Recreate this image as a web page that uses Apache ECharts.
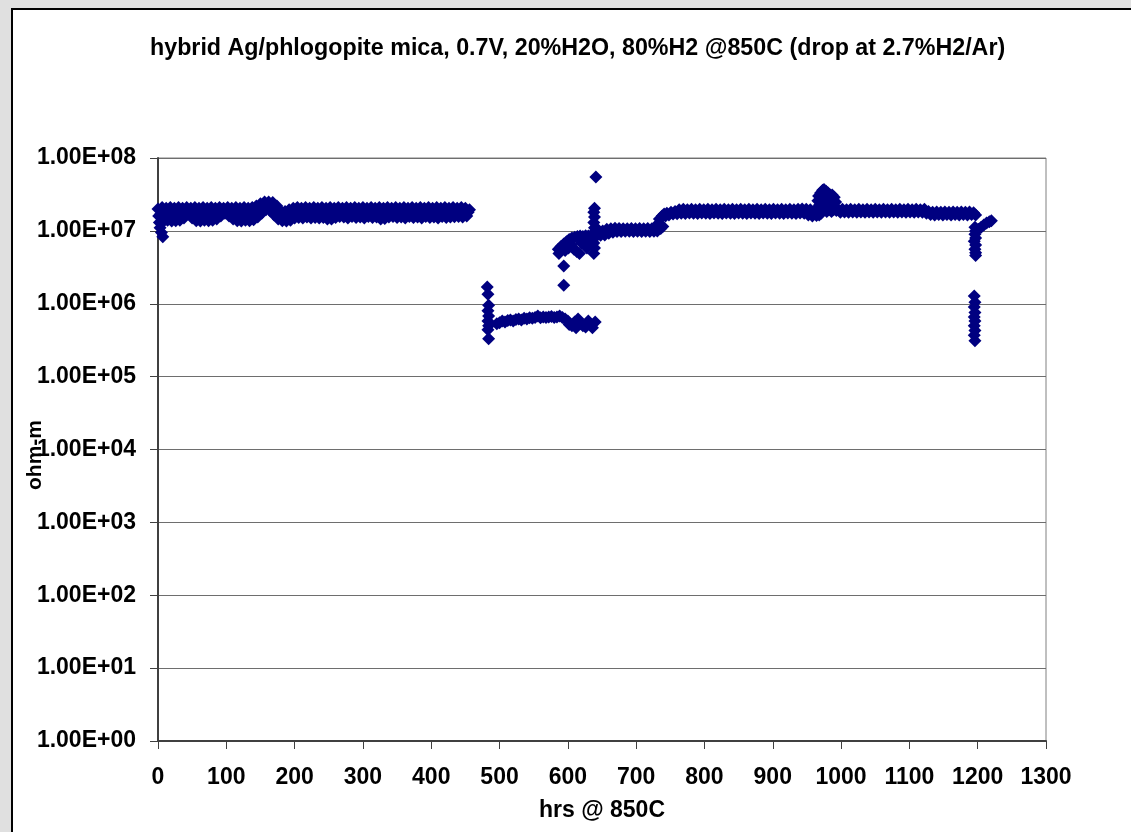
<!DOCTYPE html>
<html><head><meta charset="utf-8">
<script src="https://cdn.jsdelivr.net/npm/echarts@6/dist/echarts.min.js"></script>
<style>
html,body{margin:0;padding:0;width:1131px;height:832px;overflow:hidden;background:#e0e0e0;}
#frame{position:absolute;left:11px;top:8px;width:1140px;height:840px;background:#fff;border-left:2px solid #000;border-top:2px solid #000;}
#chart{position:absolute;left:0;top:0;width:1131px;height:832px;}
</style></head><body><div id="frame"></div><div id="chart"></div>
<script>
const titleText = 'hybrid Ag/phlogopite mica, 0.7V, 20%H2O, 80%H2 @850C (drop at 2.7%H2/Ar)';
const xName = 'hrs @ 850C';
const yName = 'ohm-m';
const yTickLabels = ['1.00E+00','1.00E+01','1.00E+02','1.00E+03','1.00E+04','1.00E+05','1.00E+06','1.00E+07','1.00E+08'];

// [hours, ohm-m]
const run1 = [[0,20e6],[1,16e6],[2,13e6],[3,11e6],[4,17e6],[5,9.5e6],[7,8.3e6],
[6,21e6],[8,13.5e6],[10,17e6],[12,20.5e6],[14,14e6],[16,17.5e6],[18,21e6],[20,13.7e6],[22,16.5e6],[24,20.5e6],[26,13.8e6],[28,17e6],[30,21e6],[32,14e6],[34,17.5e6],[36,20.5e6],
[38,15e6],[40,18e6],[42,21e6],[44,17.5e6],[46,19e6],[48,20.5e6],[50,15e6],[52,17e6],[54,21e6],[56,13.8e6],[58,16.5e6],[60,20.5e6],[62,13.7e6],[64,17e6],[66,21e6],[68,14e6],[70,17.5e6],[72,20.5e6],[74,13.8e6],[76,16.5e6],[78,21e6],[80,14e6],[82,17e6],[84,20.5e6],[86,14.5e6],[88,17.5e6],[90,21e6],[92,16e6],[94,18.5e6],[96,20.5e6],[98,17.5e6],[100,19e6],[102,21e6],[104,16e6],[106,18e6],[108,20.5e6],[110,14.5e6],[112,17e6],[114,21e6],[116,13.8e6],[118,16.5e6],[120,20.5e6],[122,13.7e6],[124,17e6],[126,21e6],[128,14e6],[130,17.5e6],[132,20.5e6],[134,13.8e6],[136,16.5e6],[138,21e6],[140,14.2e6],[142,17.5e6],[144,22e6],[146,15.5e6],[148,19e6],[150,23.5e6],[152,17.5e6],[154,21e6],[156,25e6],[158,19.5e6],[160,22.5e6],[162,25e6],[164,19e6],[166,22e6],[168,24.5e6],[170,16.5e6],[172,20e6],[174,22e6],[176,14.5e6],[178,16.5e6],[180,18.5e6],[182,13.8e6],[184,16e6],[186,18.5e6],[188,13.7e6],[190,16.5e6],[192,19.5e6],[194,14e6],[196,17e6],[198,20.5e6],[200,15e6],[202,17.5e6],[204,21e6],[206,15.2e6],[208,18e6],[210,20.5e6],[212,15e6],[214,17.5e6],[216,21e6],[218,15.5e6],[220,18e6],[222,20.5e6],[224,15e6],[226,17.5e6],[228,21e6],[230,15.2e6],[232,18e6],[234,20.5e6],[236,15e6],[238,17.5e6],[240,21e6],[242,15.2e6],[244,18e6],[246,20.5e6],[248,14.5e6],[250,17e6],[252,21e6],[254,14.5e6],[256,17.5e6],[258,20.5e6],[260,15.2e6],[262,18e6],[264,21e6],[266,15.8e6],[268,18e6],[270,20.5e6],[272,15.5e6],[274,17.5e6],[276,21e6],[278,15e6],[280,18e6],[282,20.5e6],[284,15.8e6],[286,17.5e6],[288,21e6],[290,15.2e6],[292,18e6],[294,20.5e6],[296,15.5e6],[298,17.5e6],[300,21e6],[302,15e6],[304,18e6],[306,20.5e6],[308,15.8e6],[310,17.5e6],[312,21e6],[314,15.2e6],[316,18e6],[318,20.5e6],[320,15.5e6],[322,17.5e6],[324,21e6],[326,14.6e6],[328,17e6],[330,20.5e6],[332,14.8e6],[334,17.5e6],[336,21e6],[338,15.5e6],[340,18e6],[342,20.5e6],[344,15.8e6],[346,17.5e6],[348,21e6],[350,15.2e6],[352,18e6],[354,20.5e6],[356,15.5e6],[358,17.5e6],[360,21e6],[362,15e6],[364,18e6],[366,20.5e6],[368,15.8e6],[370,17.5e6],[372,21e6],[374,15.2e6],[376,18e6],[378,20.5e6],[380,15.5e6],[382,17.5e6],[384,21e6],[386,15e6],[388,18e6],[390,20.5e6],[392,15.8e6],[394,17.5e6],[396,21e6],[398,15.2e6],[400,18e6],[402,20.5e6],[404,15.5e6],[406,17.5e6],[408,21e6],[410,15e6],[412,18e6],[414,20.5e6],[416,15.8e6],[418,17.5e6],[420,21e6],[422,15.2e6],[424,18e6],[426,20.5e6],[428,15.5e6],[430,17.5e6],[432,21e6],[434,15.6e6],[436,18e6],[438,20.5e6],[440,15.8e6],[442,17.5e6],[444,21e6],[446,15.5e6],[448,18e6],[450,20.5e6],[452,16e6],[454,18e6],[456,19.5e6]];

const lowRun = [[482,1.7e6],[483,1.35e6],[484,9.5e5],[483,8e5],[484,6.8e5],[483,5.8e5],[484,5e5],[483,4.4e5],[484,3.3e5],
[496,5.3e5],[500,5.5e5],[504,5.8e5],[508,5.6e5],[512,5.9e5],[516,6e5],[520,5.8e5],[524,6.1e5],[528,6.2e5],[532,6e5],[536,6.3e5],[540,6.2e5],[544,6.4e5],[548,6.3e5],[552,6.5e5],[556,6.8e5],[560,6.4e5],[564,6.6e5],[568,6.5e5],[572,6.6e5],[576,6.7e5],[580,6.5e5],[584,6.6e5],[588,6.8e5],[592,6.5e5],[596,6.2e5],[600,5.8e5],[602,5.2e5],[606,5e5],[610,5.6e5],[612,4.7e5],[615,6.2e5],[618,5.3e5],[622,5e5],[626,4.8e5],[630,5.8e5],[633,5.2e5],[636,4.7e5],[640,5.6e5]];

const recovery = [[594,1.8e6],[594,3.3e6],[587,4.9e6],[586,5.6e6],[590,6.1e6],[594,6.6e6],[598,7.1e6],[602,7.6e6],[606,8e6],[610,8.2e6],[614,8.4e6],[618,8.5e6],[622,8.4e6],[626,8.6e6],[630,8.5e6],[596,5.4e6],[601,5.8e6],[605,6.4e6],[609,5.6e6],[613,5.2e6],[617,4.9e6],[620,6.8e6],[624,7.2e6],[628,5.8e6],[632,7e6],[634,8e6],
[641,55e6],[639,20.5e6],[638,18e6],[639,15.5e6],[638,13e6],[639,11e6],[638,9.5e6],[639,8e6],[638,6.8e6],[639,5.8e6],[638,4.9e6],
[643,9e6],[645,10.2e6],[648,8.7e6],[651,10e6],[654,8.8e6],[657,10.5e6],[660,9.3e6],[663,10.7e6],[666,9.6e6],[669,10.9e6],[672,9.8e6],[675,10.8e6],[678,9.8e6],[681,10.7e6],[684,9.9e6],[687,10.7e6],[690,9.9e6],[693,10.8e6],[696,9.8e6],[699,10.7e6],[702,9.9e6],[705,10.8e6],[708,9.8e6],[711,10.7e6],[714,9.9e6],[717,10.8e6],[720,9.8e6],[723,10.7e6],[726,9.9e6],[729,11e6],[731,10e6],[732,12.5e6],[734,14.5e6],[736,10.8e6],[738,16e6],[739,11.5e6],[741,17e6],[743,16e6]];

const run2 = [[745,17.5e6],[748,16.5e6],[751,18e6],[754,17e6],[757,18.5e6],[760,17.2e6],
[763,19.5e6],[766,17.5e6],[769,19.8e6],[772,17.3e6],[775,19.5e6],[778,17.6e6],[781,19.8e6],[784,17.5e6],[787,19.5e6],[790,17.3e6],[793,19.8e6],[796,17.6e6],[799,19.5e6],[802,17.5e6],[805,19.8e6],[808,17.3e6],[811,19.5e6],[814,17.6e6],[817,19.8e6],[820,17.5e6],[823,19.5e6],[826,17.3e6],[829,19.8e6],[832,17.6e6],[835,19.5e6],[838,17.5e6],[841,19.8e6],[844,17.3e6],[847,19.5e6],[850,17.6e6],[853,19.8e6],[856,17.5e6],[859,19.5e6],[862,17.3e6],[865,19.8e6],[868,17.6e6],[871,19.5e6],[874,17.5e6],[877,19.8e6],[880,17.3e6],[883,19.5e6],[886,17.6e6],[889,19.8e6],[892,17.5e6],[895,19.5e6],[898,17.3e6],[901,19.8e6],[904,17.6e6],[907,19.5e6],[910,17.5e6],[913,19.8e6],[916,17.3e6],[919,19.5e6],[922,17.6e6],[925,19.8e6],[928,17.5e6],[931,19.5e6],[934,17.3e6],[937,19.8e6],[940,17.6e6],[943,20e6],[946,17.5e6],[949,19.8e6],[952,16.5e6],[955,19.5e6],[958,16e6],[961,19e6],[964,16.2e6],
[966,26e6],[967,30e6],[969,23e6],[970,33e6],[972,28e6],[973,36e6],[975,37e6],[977,26e6],[978,35e6],[980,29e6],[981,33e6],[983,24e6],[984,31e6],[985,27e6],[987,31e6],[988,23e6],[990,29e6],[992,25e6],[968,16.5e6],[971,17.5e6],[976,20e6],[979,18.5e6],[982,19.5e6],[986,18.5e6],[989,19.5e6],[993,19e6],
[996,19.5e6],[999,18e6],[1002,19.8e6],[1005,18.2e6],[1008,19.5e6],[1011,18e6],[1014,19.8e6],[1017,18.2e6],[1020,19.5e6],[1023,18e6],[1026,19.8e6],[1029,18.2e6],[1032,19.5e6],[1035,18e6],[1038,19.8e6],[1041,18.2e6],[1044,19.5e6],[1047,18e6],[1050,19.8e6],[1053,18.2e6],[1056,19.5e6],[1059,18e6],[1062,19.8e6],[1065,18.2e6],[1068,19.5e6],[1071,18e6],[1074,19.8e6],[1077,18.2e6],[1080,19.5e6],[1083,18e6],[1086,19.8e6],[1089,18.2e6],[1092,19.5e6],[1095,18e6],[1098,19.8e6],[1101,18.2e6],[1104,19.5e6],[1107,18e6],[1110,19.8e6],[1113,18.2e6],[1116,19.5e6],[1119,18e6],[1122,19.8e6],[1125,17.5e6],[1128,18.5e6],[1131,16.8e6],[1134,18e6],[1137,16.5e6],[1140,18.2e6],[1143,16.8e6],[1146,18e6],[1149,16.5e6],[1152,18.2e6],[1155,16.8e6],[1158,18e6],[1161,16.5e6],[1164,18.2e6],[1167,16.8e6],[1170,18e6],[1173,16.5e6],[1176,18.2e6],[1179,16.8e6],[1182,18e6],[1185,16.5e6],[1188,18.2e6],[1191,16.8e6],[1194,17.8e6],[1197,16.5e6]];

const dropRun = [[1196,11.2e6],[1197,10e6],[1196,9e6],[1197,8e6],[1195,7.2e6],[1197,6.4e6],[1196,5.6e6],[1197,5e6],[1197,4.6e6],
[1201,10.5e6],[1205,11.2e6],[1209,12e6],[1213,12.8e6],[1217,13.3e6],[1220,13.8e6],
[1195,1.28e6],[1196,1.05e6],[1195,9e5],[1196,7.6e5],[1195,6.6e5],[1196,5.8e5],[1195,5e5],[1196,4.3e5],[1195,3.7e5],[1196,3.1e5]];

const FONT = '"Liberation Sans", Arial, sans-serif';
const chart = echarts.init(document.getElementById('chart'), null, {renderer:'canvas'});
const mk = d => ({type:'scatter', data:d, symbol:'diamond', symbolSize:13, itemStyle:{color:'#000080', opacity:1}, animation:false, silent:true});
chart.setOption({
  animation:false,
  title:{text:titleText, left:145, top:32, textStyle:{fontFamily:FONT, fontWeight:'bold', fontSize:23.25, color:'#000'}},
  graphic:[{type:'text', x:35, y:455, rotation:Math.PI/2, silent:true,
    style:{text:yName, fill:'#000', font:'bold 21px ' + FONT, align:'center', verticalAlign:'middle'}}],
  grid:{left:158, top:158, right:85, bottom:91, show:true, borderColor:'#808080', borderWidth:1, backgroundColor:'transparent', outerBoundsMode:'none', containLabel:false},
  xAxis:{type:'value', min:0, max:1300, interval:100,
    name:xName, nameLocation:'middle', nameGap:58, nameTextStyle:{fontFamily:FONT, fontWeight:'bold', fontSize:23, color:'#000'},
    axisLine:{lineStyle:{color:'#404040', width:2}}, axisTick:{length:8, lineStyle:{color:'#404040'}},
    axisLabel:{margin:25, fontFamily:FONT, fontWeight:'bold', fontSize:23, color:'#000', formatter:v => String(v)}, splitLine:{show:false}},
  yAxis:{type:'log', logBase:10, min:1, max:1e8, splitNumber:8,
    axisLine:{lineStyle:{color:'#404040', width:2}}, axisTick:{length:8, lineStyle:{color:'#404040'}},
    axisLabel:{margin:22, fontFamily:FONT, fontWeight:'bold', fontSize:23, color:'#000',
      formatter:v => yTickLabels[Math.round(Math.log10(v))]},
    splitLine:{show:true, lineStyle:{color:'#6e6e6e', width:1}}},
  series:[mk(run1), mk(lowRun), mk(recovery), mk(run2), mk(dropRun)]
});
</script></body></html>
